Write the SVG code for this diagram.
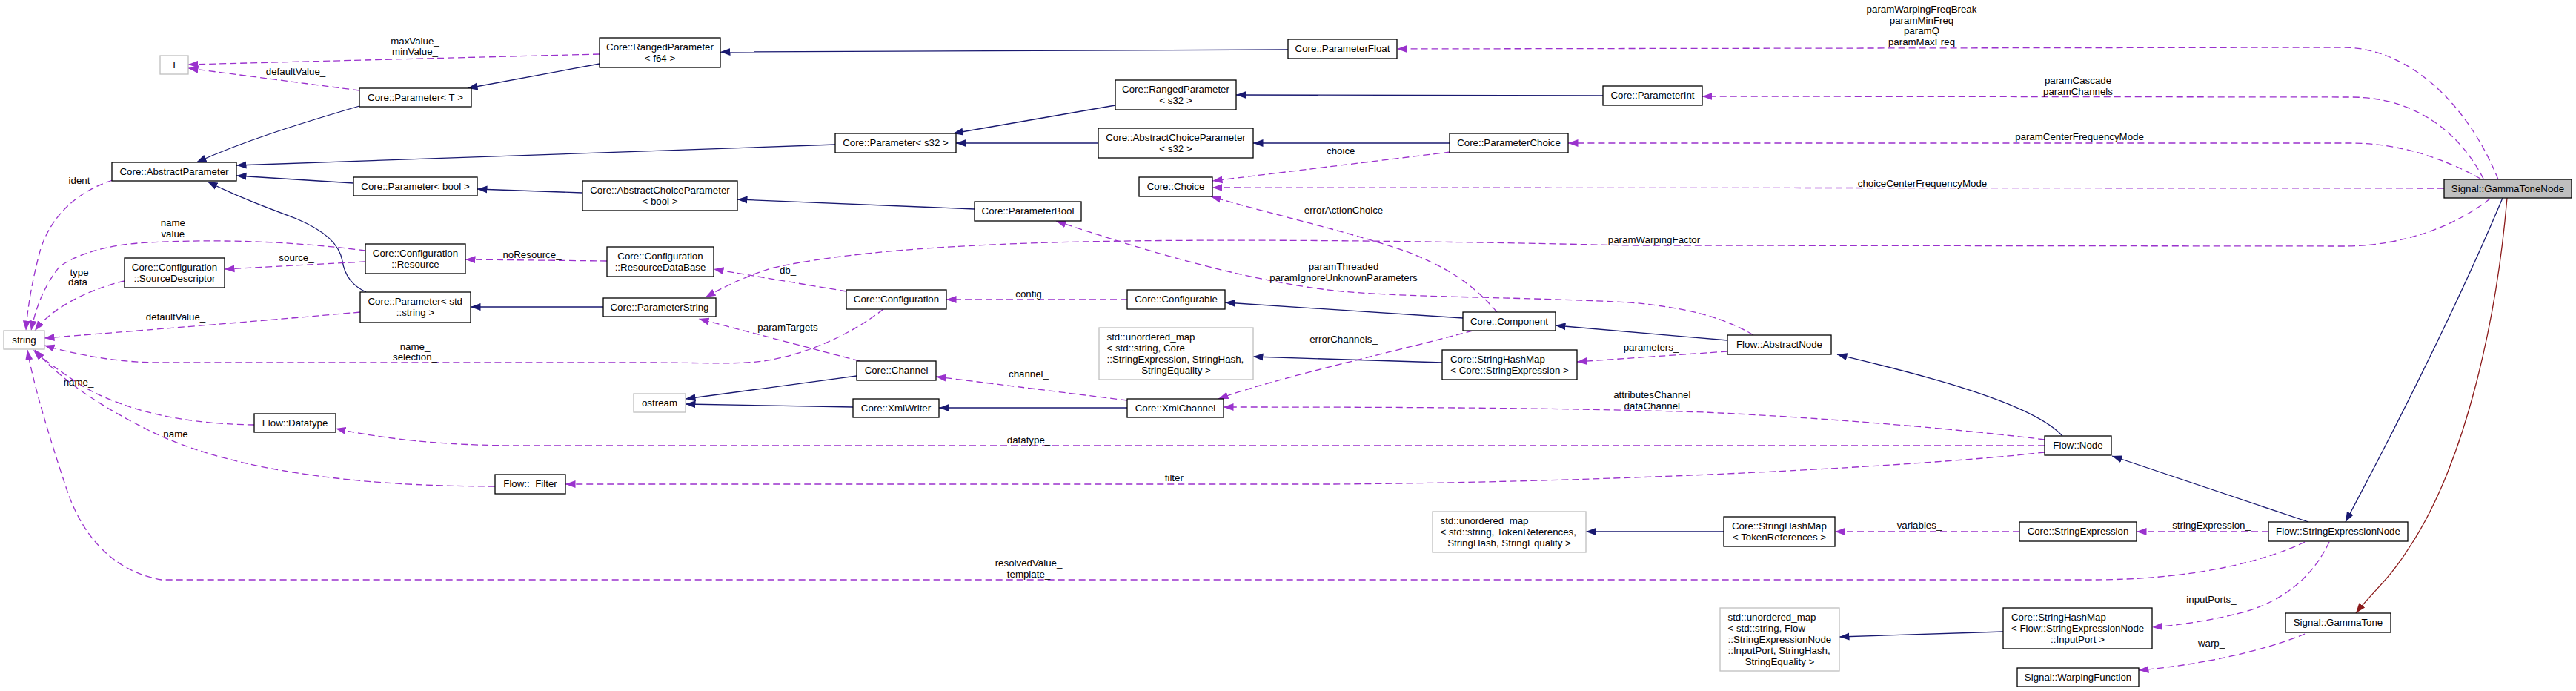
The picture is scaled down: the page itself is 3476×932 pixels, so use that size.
<svg xmlns="http://www.w3.org/2000/svg" width="3476" height="932" viewBox="0 0 3476 932">
<style>
text{font-family:"Liberation Sans",Arial,sans-serif;font-size:13.3px;fill:#000}
.c{text-anchor:middle}
.nd rect{fill:#fff;stroke:#000;stroke-width:1.3}
.ex rect{fill:#fff;stroke:#bfbfbf;stroke-width:1.3}
.root rect{fill:#bfbfbf;stroke:#000;stroke-width:1.3}
.inh{fill:none;stroke:#191970;stroke-width:1.3;marker-end:url(#mb)}
.use{fill:none;stroke:#9a32cd;stroke-width:1.3;stroke-dasharray:9,5;marker-end:url(#mp)}
.prot{fill:none;stroke:#8b1a1a;stroke-width:1.3;marker-end:url(#mr)}
</style>
<defs>
<marker id="mb" markerUnits="userSpaceOnUse" markerWidth="14" markerHeight="11" viewBox="0 0 14 11" refX="13.5" refY="5.5" orient="auto"><path d="M0,0.5 L13.5,5.5 L0,10.5z" fill="#191970"/></marker>
<marker id="mp" markerUnits="userSpaceOnUse" markerWidth="14" markerHeight="11" viewBox="0 0 14 11" refX="13.5" refY="5.5" orient="auto"><path d="M0,0.5 L13.5,5.5 L0,10.5z" fill="#9a32cd"/></marker>
<marker id="mr" markerUnits="userSpaceOnUse" markerWidth="14" markerHeight="11" viewBox="0 0 14 11" refX="13.5" refY="5.5" orient="auto"><path d="M0,0.5 L13.5,5.5 L0,10.5z" fill="#8b1a1a"/></marker>
</defs>
<rect x="0" y="0" width="3476" height="932" fill="#fff"/>

<g id="connectors">
<!-- inheritance -->
<path class="inh" d="M1738,67 L972,70"/>
<path class="inh" d="M809,86 L631,119"/>
<path class="inh" d="M485,143 C400,168 330,190 265,219"/>
<path class="inh" d="M1127,195 L319,223"/>
<path class="inh" d="M477,247 L319,237"/>
<path class="inh" d="M494,394 C470,383 464,365 462,352 C458,330 440,312 400,295 C360,280 320,265 280,245"/>
<path class="inh" d="M786,260 L644,255"/>
<path class="inh" d="M1315,282 L995,269"/>
<path class="inh" d="M814,414 L635,414"/>
<path class="inh" d="M1505,142 L1286,180"/>
<path class="inh" d="M1482,193 L1290,193"/>
<path class="inh" d="M2163,129 L1668,128"/>
<path class="inh" d="M1956,193 L1691,193"/>
<path class="inh" d="M1974,429 L1653,408"/>
<path class="inh" d="M2331,459 L2099,439"/>
<path class="inh" d="M1946,489 L1691,481"/>
<path class="inh" d="M1156,507 L925,538"/>
<path class="inh" d="M1151,549 L925,545"/>
<path class="inh" d="M1521,550 L1267,550"/>
<path class="inh" d="M2783,588 C2740,540 2570,500 2479,478"/>
<path class="inh" d="M3115,704 L2850,615"/>
<path class="inh" d="M3377,267 Q3300,450 3165,704"/>
<path class="prot" d="M3383,267 C3370,420 3330,620 3250,740 C3225,780 3200,800 3179,827"/>
<path class="inh" d="M2326,717 L2140,717"/>
<path class="inh" d="M2703,852 L2482,859"/>
<!-- usage -->
<path class="use" d="M809,73 L254,87"/>
<path class="use" d="M485,122 L254,92"/>
<path class="use" d="M152,243 C105,258 70,290 55,335 C44,375 37,415 35,446"/>
<path class="use" d="M493,338 C400,326 300,322 200,327 C140,330 100,345 80,360 C60,385 48,415 42,446"/>
<path class="use" d="M168,379 C120,390 70,415 47,446"/>
<path class="use" d="M493,353 L303,363"/>
<path class="use" d="M819,352 L628,350"/>
<path class="use" d="M486,421 C350,433 200,445 60,456"/>
<path class="use" d="M1192,417 C1150,450 1090,478 1030,487 C990,492 950,489 880,489 L218,489 C160,489 110,480 60,466"/>
<path class="use" d="M343,573 C250,572 170,555 110,520 C80,500 60,486 45,472"/>
<path class="use" d="M668,656 C460,656 300,630 200,580 C130,545 80,510 47,472"/>
<path class="use" d="M3110,731 C3050,760 2950,782 2823,782 L218,782 C150,770 110,720 90,660 C70,600 45,520 37,472"/>
<path class="use" d="M1142,393 L963,363"/>
<path class="use" d="M1160,487 L943,430"/>
<path class="use" d="M3360,268 C3320,300 3250,332 3162,332 L2200,331 C1800,322 1500,322 1340,330 C1200,336 1100,348 1040,362 C1000,375 975,388 952,401"/>
<path class="use" d="M1521,404 L1277,404"/>
<path class="use" d="M1957,205 L1636,244"/>
<path class="use" d="M3298,254 L1636,253"/>
<path class="use" d="M2020,421 C1985,380 1950,360 1900,340 C1830,315 1720,290 1634,265"/>
<path class="use" d="M2366,452 C2330,430 2280,415 2200,408 C2050,400 1900,402 1800,392 C1680,378 1550,340 1425,298"/>
<path class="use" d="M1987,446 C1900,470 1720,510 1644,538"/>
<path class="use" d="M2331,474 L2128,488"/>
<path class="use" d="M2759,593 C2700,585 2500,565 2300,556 C2100,550 1900,549 1651,549"/>
<path class="use" d="M2759,601 L700,601 C620,601 530,595 453,578"/>
<path class="use" d="M2759,610 C2600,628 2200,650 1800,653 L763,653"/>
<path class="use" d="M1521,540 L1263,508"/>
<path class="use" d="M2725,717 L2476,717"/>
<path class="use" d="M3061,717 L2883,717"/>
<path class="use" d="M3143,731 C3120,780 3080,810 3030,825 C2980,838 2940,843 2904,846"/>
<path class="use" d="M3110,855 C3050,880 2960,898 2886,904"/>
<path class="use" d="M3371,242 C3330,140 3250,64 3162,64 L1885,66"/>
<path class="use" d="M3351,241 C3320,180 3260,131 3173,131 L2297,130"/>
<path class="use" d="M3347,241 C3300,215 3240,193 3173,193 L2116,193"/>
<!-- labels -->
<text class="c" x="560" y="59.5">maxValue_</text>
<text class="c" x="560" y="73.5">minValue_</text>
<text class="c" x="399" y="100.5">defaultValue_</text>
<text class="c" x="107" y="248">ident</text>
<text class="c" x="237" y="305">name_</text>
<text class="c" x="237" y="320">value_</text>
<text class="c" x="107" y="371.5">type</text>
<text class="c" x="105" y="385">data</text>
<text class="c" x="400" y="351.5">source_</text>
<text class="c" x="718" y="347.5">noResource_</text>
<text class="c" x="237" y="431.5">defaultValue_</text>
<text class="c" x="560" y="471.5">name_</text>
<text class="c" x="560" y="485.5">selection_</text>
<text class="c" x="106" y="519.5">name_</text>
<text class="c" x="237" y="589.5">name</text>
<text class="c" x="1063" y="368.5">db_</text>
<text class="c" x="1388" y="400.5">config</text>
<text class="c" x="1063" y="445.5">paramTargets</text>
<text class="c" x="1388" y="508.5">channel_</text>
<text class="c" x="1388" y="597.5">datatype_</text>
<text class="c" x="1588" y="648.5">filter_</text>
<text class="c" x="1388" y="763.5">resolvedValue_</text>
<text class="c" x="1388" y="778.5">template_</text>
<text class="c" x="2593" y="16.5">paramWarpingFreqBreak</text>
<text class="c" x="2593" y="31.5">paramMinFreq</text>
<text class="c" x="2593" y="45.5">paramQ</text>
<text class="c" x="2593" y="60.5">paramMaxFreq</text>
<text class="c" x="1813" y="207.5">choice_</text>
<text class="c" x="2594" y="251.5">choiceCenterFrequencyMode</text>
<text class="c" x="1813" y="287.5">errorActionChoice</text>
<text class="c" x="2232" y="327.5">paramWarpingFactor</text>
<text class="c" x="1813" y="364">paramThreaded</text>
<text class="c" x="1813" y="379">paramIgnoreUnknownParameters</text>
<text class="c" x="1813" y="461.5">errorChannels_</text>
<text class="c" x="2228" y="473">parameters_</text>
<text class="c" x="2233" y="536.5">attributesChannel_</text>
<text class="c" x="2233" y="551.5">dataChannel_</text>
<text class="c" x="2590" y="712.5">variables_</text>
<text class="c" x="2804" y="112.5">paramCascade</text>
<text class="c" x="2804" y="127.5">paramChannels</text>
<text class="c" x="2806" y="188.5">paramCenterFrequencyMode</text>
<text class="c" x="2984" y="712.5">stringExpression_</text>
<text class="c" x="2984" y="812.5">inputPorts_</text>
<text class="c" x="2984" y="871.5">warp_</text>
</g>

<g id="n_T" class="ex"><rect x="216" y="75" width="38" height="25"/><text class="c" x="235" y="91.5">T</text></g>
<g id="n_rpf64" class="nd"><rect x="809" y="51" width="163" height="40"/><text class="c" x="890.5" y="67.5">Core::RangedParameter</text><text class="c" x="890.5" y="82.5">&lt; f64 &gt;</text></g>
<g id="n_paramT" class="nd"><rect x="485" y="119" width="151" height="25"/><text class="c" x="560.5" y="135.5">Core::Parameter&lt; T &gt;</text></g>
<g id="n_absParam" class="nd"><rect x="151" y="219" width="168" height="25"/><text class="c" x="235" y="235.5">Core::AbstractParameter</text></g>
<g id="n_paramBoolT" class="nd"><rect x="477" y="239" width="167" height="25"/><text class="c" x="560.5" y="255.5">Core::Parameter&lt; bool &gt;</text></g>
<g id="n_acpBool" class="nd"><rect x="786" y="244" width="209" height="40"/><text class="c" x="890.5" y="260.5">Core::AbstractChoiceParameter</text><text class="c" x="890.5" y="275.5">&lt; bool &gt;</text></g>
<g id="n_resource" class="nd"><rect x="493" y="329" width="135" height="40"/><text class="c" x="560.5" y="345.5">Core::Configuration</text><text class="c" x="560.5" y="360.5">::Resource</text></g>
<g id="n_srcDesc" class="nd"><rect x="168" y="348" width="135" height="40"/><text class="c" x="235.5" y="364.5">Core::Configuration</text><text class="c" x="235.5" y="379.5">::SourceDescriptor</text></g>
<g id="n_paramStd" class="nd"><rect x="486" y="394" width="149" height="41"/><text x="496.5" y="410.5">Core::Parameter&lt; std</text><text class="c" x="560.5" y="425.5">::string &gt;</text></g>
<g id="n_rdb" class="nd"><rect x="819" y="333" width="144" height="40"/><text class="c" x="891" y="349.5">Core::Configuration</text><text class="c" x="891" y="364.5">::ResourceDataBase</text></g>
<g id="n_paramString" class="nd"><rect x="814" y="402" width="152" height="25"/><text class="c" x="890" y="418.5">Core::ParameterString</text></g>
<g id="n_string" class="ex"><rect x="5" y="446" width="55" height="25"/><text class="c" x="32.5" y="462.5">string</text></g>
<g id="n_ostream" class="ex"><rect x="855" y="531" width="70" height="25"/><text class="c" x="890" y="547.5">ostream</text></g>
<g id="n_datatype" class="nd"><rect x="343" y="558" width="110" height="25"/><text class="c" x="398" y="574.5">Flow::Datatype</text></g>
<g id="n_filter" class="nd"><rect x="668" y="640" width="95" height="26"/><text class="c" x="715.5" y="657">Flow::_Filter</text></g>
<g id="n_paramFloat" class="nd"><rect x="1738" y="53" width="147" height="26"/><text class="c" x="1811.5" y="70">Core::ParameterFloat</text></g>
<g id="n_rps32" class="nd"><rect x="1505" y="108" width="163" height="40"/><text class="c" x="1586.5" y="124.5">Core::RangedParameter</text><text class="c" x="1586.5" y="139.5">&lt; s32 &gt;</text></g>
<g id="n_ps32" class="nd"><rect x="1127" y="180" width="163" height="26"/><text class="c" x="1208.5" y="197">Core::Parameter&lt; s32 &gt;</text></g>
<g id="n_acps32" class="nd"><rect x="1482" y="173" width="209" height="40"/><text class="c" x="1586.5" y="189.5">Core::AbstractChoiceParameter</text><text class="c" x="1586.5" y="204.5">&lt; s32 &gt;</text></g>
<g id="n_choice" class="nd"><rect x="1537" y="239" width="99" height="26"/><text class="c" x="1586.5" y="256">Core::Choice</text></g>
<g id="n_parameterBool" class="nd"><rect x="1315" y="272" width="144" height="26"/><text class="c" x="1387" y="289">Core::ParameterBool</text></g>
<g id="n_configuration" class="nd"><rect x="1142" y="391" width="135" height="26"/><text class="c" x="1209.5" y="408">Core::Configuration</text></g>
<g id="n_configurable" class="nd"><rect x="1521" y="391" width="132" height="26"/><text class="c" x="1587" y="408">Core::Configurable</text></g>
<g id="n_umapSE" class="ex"><rect x="1483" y="442" width="208" height="70"/><text x="1493.5" y="458.5">std::unordered_map</text><text x="1493.5" y="473.5">&lt; std::string, Core</text><text x="1493.5" y="488.5">::StringExpression, StringHash,</text><text class="c" x="1587" y="503.5">StringEquality &gt;</text></g>
<g id="n_channel" class="nd"><rect x="1156" y="487" width="107" height="26"/><text class="c" x="1209.5" y="504">Core::Channel</text></g>
<g id="n_xmlWriter" class="nd"><rect x="1151" y="538" width="116" height="25"/><text class="c" x="1209" y="554.5">Core::XmlWriter</text></g>
<g id="n_xmlChannel" class="nd"><rect x="1521" y="538" width="130" height="25"/><text class="c" x="1586" y="554.5">Core::XmlChannel</text></g>
<g id="n_paramInt" class="nd"><rect x="2163" y="116" width="134" height="26"/><text class="c" x="2230" y="133">Core::ParameterInt</text></g>
<g id="n_paramChoice" class="nd"><rect x="1956" y="180" width="160" height="26"/><text class="c" x="2036" y="197">Core::ParameterChoice</text></g>
<g id="n_component" class="nd"><rect x="1974" y="421" width="125" height="25"/><text class="c" x="2036.5" y="437.5">Core::Component</text></g>
<g id="n_absNode" class="nd"><rect x="2331" y="452" width="140" height="26"/><text class="c" x="2401" y="469">Flow::AbstractNode</text></g>
<g id="n_shmSE" class="nd"><rect x="1946" y="472" width="182" height="40"/><text x="1957" y="488.5">Core::StringHashMap</text><text class="c" x="2037" y="503.5">&lt; Core::StringExpression &gt;</text></g>
<g id="n_umapTR" class="ex"><rect x="1933" y="690" width="207" height="55"/><text x="1943.5" y="706.5">std::unordered_map</text><text x="1943.5" y="721.5">&lt; std::string, TokenReferences,</text><text class="c" x="2036.5" y="736.5">StringHash, StringEquality &gt;</text></g>
<g id="n_shmTR" class="nd"><rect x="2326" y="697" width="150" height="40"/><text x="2337" y="713.5">Core::StringHashMap</text><text class="c" x="2401" y="728.5">&lt; TokenReferences &gt;</text></g>
<g id="n_umapIP" class="ex"><rect x="2321" y="820" width="161" height="85"/><text x="2331.5" y="836.5">std::unordered_map</text><text x="2331.5" y="851.5">&lt; std::string, Flow</text><text x="2331.5" y="866.5">::StringExpressionNode</text><text x="2331.5" y="881.5">::InputPort, StringHash,</text><text class="c" x="2401.5" y="896.5">StringEquality &gt;</text></g>
<g id="n_gammaToneNode" class="root"><rect x="3298" y="242" width="172" height="25"/><text class="c" x="3384" y="258.5">Signal::GammaToneNode</text></g>
<g id="n_flowNode" class="nd"><rect x="2759" y="588" width="90" height="26"/><text class="c" x="2804" y="605">Flow::Node</text></g>
<g id="n_strExpr" class="nd"><rect x="2725" y="704" width="158" height="26"/><text class="c" x="2804" y="721">Core::StringExpression</text></g>
<g id="n_sen" class="nd"><rect x="3061" y="704" width="188" height="26"/><text class="c" x="3155" y="721">Flow::StringExpressionNode</text></g>
<g id="n_shmIP" class="nd"><rect x="2703" y="820" width="201" height="55"/><text x="2714" y="836.5">Core::StringHashMap</text><text x="2714" y="851.5">&lt; Flow::StringExpressionNode</text><text class="c" x="2803.5" y="866.5">::InputPort &gt;</text></g>
<g id="n_gammaTone" class="nd"><rect x="3084" y="827" width="142" height="26"/><text class="c" x="3155" y="844">Signal::GammaTone</text></g>
<g id="n_warp" class="nd"><rect x="2722" y="901" width="164" height="25"/><text class="c" x="2804" y="917.5">Signal::WarpingFunction</text></g>
</svg>
